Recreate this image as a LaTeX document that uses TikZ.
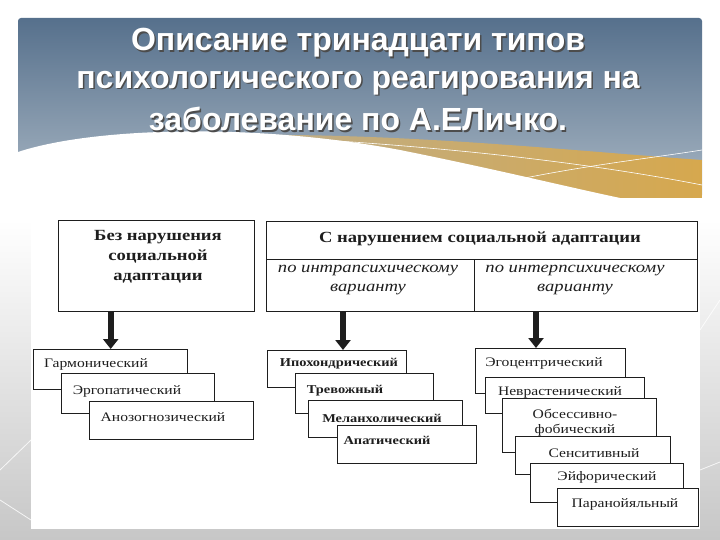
\documentclass[tikz,border=0pt]{standalone}
\usepackage{fontspec}
\setmainfont{Liberation Serif}
\newfontfamily\titlefont{Liberation Sans}
\newfontfamily\scanfont{Liberation Serif}[FakeStretch=1.2]
\usetikzlibrary{arrows.meta,calc}
\definecolor{hdtop}{HTML}{56708C}
\definecolor{hdbot}{HTML}{A9B7C4}
\definecolor{goldA}{HTML}{BBAE90}
\definecolor{goldB}{HTML}{D6A84E}
\definecolor{ink}{HTML}{1E1E1E}
\tikzset{
  box/.style={draw=ink, line width=1.4pt, fill=white, rectangle, inner sep=0pt, anchor=north west},
  lbl/.style={font=\scanfont\fontsize{13}{15}\selectfont, text=ink, inner sep=0pt},
  lblb/.style={font=\scanfont\bfseries\fontsize{12}{14}\selectfont, text=ink, inner sep=0pt},
  headtxt/.style={font=\scanfont\bfseries\fontsize{15.5}{20}\selectfont, text=ink, align=center, inner sep=0pt},
  subtxt/.style={font=\scanfont\itshape\fontsize{15.5}{19}\selectfont, text=ink, align=center, inner sep=0pt},
  bigarrow/.style={draw=ink, line width=6pt, -{Triangle[width=15pt,length=10pt]}},
  ttl/.style={font=\titlefont\bfseries\fontsize{32}{36}\selectfont, text=white, inner sep=0pt},
  ttlsh/.style={font=\titlefont\bfseries\fontsize{32}{36}\selectfont, text=black!70, inner sep=0pt}
}
\begin{document}
\begin{tikzpicture}[x=1pt,y=-1pt]
\useasboundingbox (0,0) rectangle (720,540);
% page background
\shade[top color=white, bottom color=black!22] (0,220) rectangle (720,540);
\fill[white] (0,0) rectangle (720,220);
\draw[white, line width=0.8pt, opacity=0.8] (0,470) -- (31,440);
\draw[white, line width=0.8pt, opacity=0.8] (0,500) -- (31,520);
\draw[white, line width=0.8pt, opacity=0.8] (700,330) -- (720,300);
\draw[white, line width=0.8pt, opacity=0.8] (700,470) -- (720,462);
% header
\shade[top color=hdtop, bottom color=hdbot, rounded corners=3pt] (18,18) rectangle (702,198);
\begin{scope}
\clip (18,18) rectangle (702,198);
\shade[left color=goldA, right color=goldB] (200,136) .. controls (380,130) and (560,150) .. (702,160) -- (702,200) -- (300,200) -- cycle;
\fill[white] (18,152) .. controls (90,128) and (250,122) .. (400,150) .. controls (500,170) and (580,190) .. (630,200) -- (18,200) -- cycle;
\draw[white, line width=0.6pt] (230,135) .. controls (450,145) and (600,165) .. (702,185);
\draw[white, line width=0.6pt] (440,198) .. controls (540,170) and (640,160) .. (702,150);
\end{scope}
% title
\foreach \t/\yy/\nm in {{Описание тринадцати типов}/43/t1,{психологического реагирования на}/83/t2,{заболевание по А.ЕЛичко.}/119/t3}{
  \node[ttlsh] at (359.5,\yy+1.5) {\t};
  \node[ttl] (\nm) at (358,\yy) {\t};
}
% diagram area
\fill[white] (31,209) rectangle (700,529);
% top boxes
\node[box, minimum width=196pt, minimum height=91pt] (A) at (58,220) {};
\node[headtxt] (Atxt) at (158,257) {Без нарушения\\социальной\\адаптации};
\node[box, minimum width=431pt, minimum height=38pt] (B) at (266,221) {};
\node[headtxt] (Btxt) at (480,239) {С нарушением социальной адаптации};
\node[box, minimum width=208pt, minimum height=52pt] (intra) at (266,259) {};
\node[box, minimum width=223pt, minimum height=52pt] (inter) at (474,259) {};
\node[subtxt] (intratxt) at (368,280) {по интрапсихическому\\варианту};
\node[subtxt] (intertxt) at (575,280) {по интерпсихическому\\варианту};
% column 1
\node[box, minimum width=154pt, minimum height=40pt] (g1) at (33,349) {};
\node[lbl] at (96,364) {Гармонический};
\node[box, minimum width=153pt, minimum height=40pt] (g2) at (61,373) {};
\node[lbl] at (127,391) {Эргопатический};
\node[box, minimum width=164pt, minimum height=38pt] (g3) at (89,401) {};
\node[lbl] at (163,417) {Анозогнозический};
% column 2
\node[box, minimum width=139pt, minimum height=37pt] (c1) at (267,350) {};
\node[lblb] at (339,364) {Ипохондрический};
\node[box, minimum width=138pt, minimum height=40pt] (c2) at (295,373) {};
\node[lblb] at (345,391) {Тревожный};
\node[box, minimum width=154pt, minimum height=37pt] (c3) at (308,400) {};
\node[lblb] at (382,418) {Меланхолический};
\node[box, minimum width=139pt, minimum height=38pt] (c4) at (337,425) {};
\node[lblb] at (387,440) {Апатический};
% column 3
\node[box, minimum width=150pt, minimum height=45pt] (e1) at (475,348) {};
\node[lbl] at (544,363) {Эгоцентрический};
\node[box, minimum width=159pt, minimum height=36pt] (e2) at (485,377) {};
\node[lbl] at (560,392) {Неврастенический};
\node[box, minimum width=154pt, minimum height=54pt] (e3) at (502,398) {};
\node[lbl, align=center] at (575,423) {Обсессивно-\\фобический};
\node[box, minimum width=155pt, minimum height=38pt] (e4) at (515,436) {};
\node[lbl] at (594,453) {Сенситивный};
\node[box, minimum width=153pt, minimum height=39pt] (e5) at (530,463) {};
\node[lbl] at (607,477) {Эйфорический};
\node[box, minimum width=141pt, minimum height=38pt] (e6) at (557,488) {};
\node[lbl] at (625,504) {Паранойяльный};
% arrows
\coordinate (x2) at (343,0);
\coordinate (x3) at (536,0);
\draw[bigarrow] (A.south -| g1.north) -- (g1.north);
\draw[bigarrow] (intra.south -| x2) -- (c1.north -| x2);
\draw[bigarrow] (inter.south -| x3) -- (e1.north -| x3);
\end{tikzpicture}
\end{document}
